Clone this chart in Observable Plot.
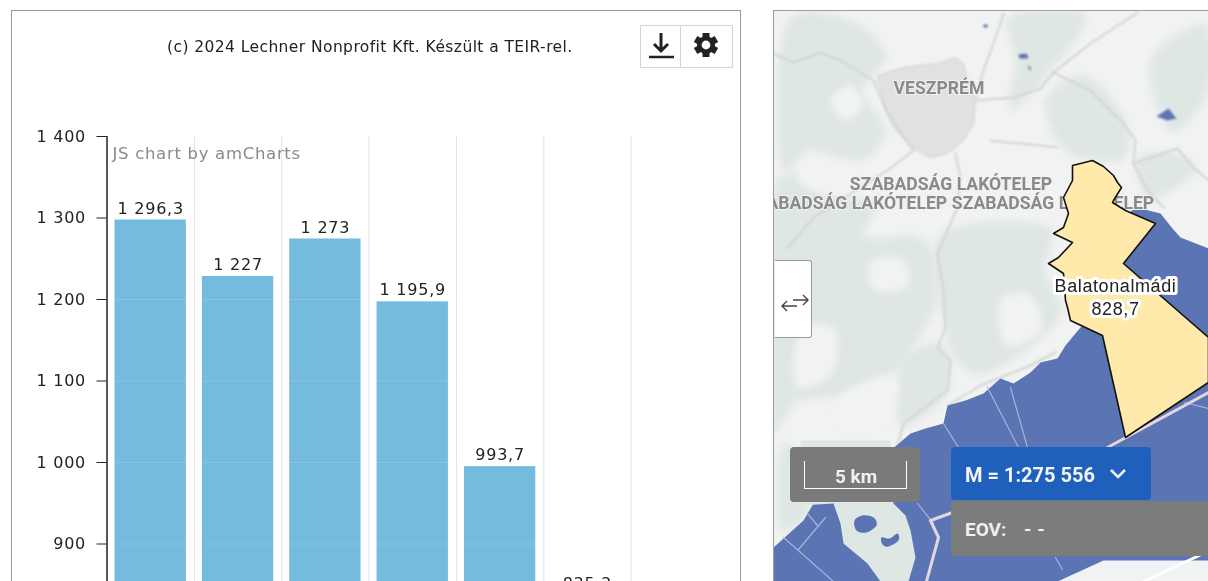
<!DOCTYPE html>
<html><head><meta charset="utf-8">
<script src="https://cdn.jsdelivr.net/npm/d3@7"></script>
<script src="https://cdn.jsdelivr.net/npm/@observablehq/plot@0.6"></script>
<style>
html,body{margin:0;padding:0;background:#fff;width:1208px;height:581px;overflow:hidden;font-family:"DejaVu Sans",sans-serif}
#page{position:relative;width:1208px;height:581px;overflow:hidden;filter:blur(.4px)}
.abs{position:absolute;box-sizing:border-box}
#chart,#map{position:absolute;overflow:hidden}
#chart{left:0;top:0;width:741px;height:581px}
#map{left:773px;top:10px;width:435px;height:571px;background:#f1f2f2}
#chart svg,#map svg{background:transparent;overflow:hidden;display:block;max-width:none}
.soft path{filter:blur(3.2px)}
.soft1 path{filter:blur(.8px)}
.ls text{letter-spacing:.75px}
.wm text{letter-spacing:.7px}
.ml text{letter-spacing:.6px}
</style></head><body>
<div id="page">
<div id="chart"></div>
<div class="abs" style="left:11px;top:10px;width:730px;height:580px;border:1px solid #9c9c9c"></div>
<div class="abs" style="left:167px;top:38px;font:15.5px 'DejaVu Sans';letter-spacing:.42px;color:#222;white-space:nowrap">(c) 2024 Lechner Nonprofit Kft. Készült a TEIR-rel.</div>
<div class="abs" style="left:640px;top:25px;width:93px;height:43px;border:1px solid #d4d4d4;background:#fff"></div>
<div class="abs" style="left:680px;top:25px;width:1px;height:43px;background:#d4d4d4"></div>
<svg class="abs" style="left:646px;top:30px" width="30" height="32" viewBox="0 0 30 32"><path d="M15 3v17M8 14l7 7 7-7" fill="none" stroke="#222" stroke-width="3"/><path d="M3 27h25" stroke="#222" stroke-width="2.5"/></svg>
<svg class="abs" style="left:692px;top:31px" width="28" height="28" viewBox="0 0 28 28"><g fill="#222"><circle cx="14" cy="14" r="9"/><rect x="10.5" y="2" width="7" height="24"/><rect x="10.5" y="2" width="7" height="24" transform="rotate(60 14 14)"/><rect x="10.5" y="2" width="7" height="24" transform="rotate(120 14 14)"/></g><circle cx="14" cy="14" r="4.4" fill="#fff"/></svg>

<div id="map"></div>
<div class="abs" style="left:773px;top:10px;width:436px;height:572px;border:1px solid #9c9c9c;pointer-events:none"></div>
<div class="abs" style="left:775px;top:260px;width:37px;height:78px;background:#fff;border:1px solid #999;border-left:none;border-radius:0 3px 3px 0"></div>
<svg class="abs" style="left:781px;top:293px" width="28" height="20" viewBox="0 0 28 20"><path d="M1 13h15M6 8l-5 5 5 5M12 7h15M22 2l5 5-5 5" fill="none" stroke="#444" stroke-width="1.4"/></svg>
<div class="abs" style="left:790px;top:447px;width:130px;height:55px;background:#7a7a7a;border-radius:4px"></div>
<div class="abs" style="left:804px;top:461px;width:103px;height:28px;border:1px solid #fff;border-top:none"></div>
<div class="abs" style="left:801px;top:465px;width:110px;text-align:center;color:#f0f0f0;font:bold 19px Roboto;white-space:nowrap">5 km</div>
<div class="abs" style="left:951px;top:447px;width:200px;height:53px;background:#2060bd;border-radius:4px;color:#f4f4f4;font:bold 20px Roboto;padding:16px 0 0 14px;white-space:nowrap">M = 1:275 556</div>
<svg class="abs" style="left:1109px;top:468px" width="18" height="12" viewBox="0 0 18 12"><path d="M2 2l7 7 7-7" fill="none" stroke="#f4f4f4" stroke-width="2.6"/></svg>
<div class="abs" style="left:951px;top:501px;width:260px;height:55px;background:#7c7c7c;border-radius:4px;color:#f0f0f0;font:bold 19px Roboto;padding:17px 0 0 14px;white-space:pre">EOV:<span style="position:absolute;left:73px;letter-spacing:.5px">- -</span></div>
</div>
<script>
// --- Chart data ---
const barPositions = [0, 1, 2, 3, 4, 5];
const barValues = [1296.3, 1227, 1273, 1195.9, 993.7, 835.2];
const barLabels = ["1 296,3", "1 227", "1 273", "1 195,9", "993,7", "835,2"];
const yTicks = [900, 1000, 1100, 1200, 1300, 1400];
const gridPositions = [1, 2, 3, 4, 5, 6];
const axisFloor = 700;
const bars = barPositions.map((p, i) => ({p, v: barValues[i], label: barLabels[i]}));
const fmt = d => String(d).replace(/\B(?=(\d{3})+$)/g, " ");

const chart = Plot.plot({
  width: 741, height: 581,
  marginLeft: 106.5, marginRight: 23, marginTop: 136, marginBottom: 0,
  x: {domain: [0, 7], axis: null},
  y: {domain: [854, 1400], axis: null},
  style: {background: "transparent", fontFamily: "DejaVu Sans"},
  marks: [
    Plot.ruleX(gridPositions, {stroke: "#e2e2e2"}),
    Plot.rectY(bars, {x1: "p", x2: d => d.p + 1, y1: axisFloor, y2: "v", insetLeft: 8, insetRight: 8, insetTop: -1, fill: "#75bbde"}),
    Plot.ruleY(yTicks, {stroke: "#fff", strokeOpacity: .14, x1: 0, x2: 5}),
    Plot.text(bars, {x: d => d.p + .5, y: "v", text: "label", dy: -12.5, fontSize: 16, fill: "#222", className: "ls"}),
    Plot.axisY(yTicks, {tickFormat: fmt, tickSize: 10, tickPadding: 11, fontSize: 16, color: "#222", label: null, className: "ls"}),
    Plot.ruleX([0], {stroke: "#111", strokeWidth: 1.4}),
    Plot.text(["JS chart by amCharts"], {frameAnchor: "top-left", dx: 5.5, dy: 11, fontSize: 16.5, fill: "#8a8a8a", className: "wm"})
  ]
});
document.getElementById("chart").append(chart);

// --- Map data (page coordinates) ---
const forests = [
 [[785,25],[850,20],[885,55],[862,90],[885,130],[860,160],[810,150],[780,165]],
 [[770,195],[830,180],[880,195],[865,235],[925,240],[935,300],[910,350],[870,390],[800,400],[770,420]],
 [[940,235],[1045,225],[1045,270],[1060,315],[1010,360],[970,372],[945,330]],
 [[1010,15],[1085,14],[1050,70],[1010,110],[1015,60]],
 [[1045,100],[1085,75],[1125,120],[1120,160],[1065,150]],
 [[1150,60],[1205,25],[1208,90],[1170,130]],
 [[1137,160],[1170,152],[1195,170],[1150,198]],
 [[900,360],[945,345],[945,395],[900,425]],
 [[778,460],[790,445],[810,505],[780,530]]
];
const clearings = [
 [[830,100],[850,85],[862,105],[845,120]],
 [[800,330],[835,330],[830,375],[795,385]],
 [[870,262],[900,258],[908,285],[875,290]],
 [[840,395],[895,375],[885,425],[840,430]],
 [[1000,300],[1030,295],[1040,330],[1005,345]],
 [[800,165],[850,170],[880,198],[810,190]]
];
const city = [[877,75],[903,67],[937,63],[955,57],[963,63],[967,80],[975,100],[973,123],[963,140],[947,153],[930,157],[913,148],[893,127],[883,103]];
const lake = [[1136,207],[1160,213],[1172,228],[1180,237],[1208,248],[1208,560],[1103,560],[1057,581],[773,581],[773,547],[803,520],[813,503],[823,500],[896,445],[910,433],[925,428],[943,423],[947,405],[965,400],[983,393],[1000,378],[1013,383],[1030,372],[1040,362],[1057,358],[1065,345],[1080,327],[1100,300],[1110,225]];
const tihany = [[800,440],[890,440],[893,503],[905,515],[910,530],[915,557],[908,581],[880,581],[867,563],[843,543],[840,523],[833,503],[800,505]];
const pond1 = [[854,520],[862,515],[873,517],[876,525],[866,532],[856,530]];
const pond2 = [[881,537],[889,538],[897,533],[898,540],[888,546],[882,544]];
const smallPonds = [
 [[1018,54],[1026,53],[1028,58],[1019,58]],
 [[1156,116],[1168,108],[1176,118],[1167,120]],
 [[983,24],[987,24],[987,27],[983,27]],
 [[1027,66],[1030,66],[1030,71]]
];
const almadi = [[1072,165],[1092,160],[1103,166],[1113,175],[1117,182],[1121,187],[1113,200],[1112,202],[1125,210],[1155,223],[1123,263],[1208,337],[1208,382],[1125,437],[1102,335],[1070,320],[1067,307],[1065,300],[1063,273],[1048,263],[1058,257],[1072,242],[1053,233],[1063,227],[1068,213],[1063,197],[1072,180]];
const roads = [
 [[773,53],[793,62],[820,52],[840,60],[873,80],[887,113],[913,150],[887,170],[813,217],[787,248]],
 [[977,100],[1013,97],[1040,88],[1053,72],[1090,43],[1137,12]],
 [[1053,72],[1090,90],[1123,123],[1135,140],[1133,163],[1177,148],[1193,167],[1208,180]],
 [[1003,13],[993,43],[983,70],[975,100]],
 [[955,153],[960,177],[957,207],[937,253],[943,290],[945,327],[937,347],[950,360],[947,390],[903,423],[897,445]],
 [[990,140],[1057,147]],
 [[1133,163],[1147,190],[1163,207]],
 [[947,405],[980,385],[1030,365],[1055,352]]
];
const lakeLines = [
 [[943,423],[958,447]],[[987,387],[1018,447]],[[1010,387],[1027,447]],[[1184,402],[1208,408]],
 [[783,537],[833,581]],[[825,517],[798,549]],[[807,513],[817,525]],[[917,503],[933,523]],[[1055,557],[1062,569]]
];
const pinkRoads = [[[1107,447],[1208,392]], [[930,520],[952,512]], [[930,520],[938,537],[926,581]]];
const whiteRoads = [[[1143,581],[1203,553]]];
const toRows = (list) => list.flatMap((pts, id) => pts.map(([x, y]) => ({id, x, y})));
const poly = (list, o) => Plot.line(toRows(list), {x: "x", y: "y", z: "id", curve: "linear-closed", ...o});
const blob = (list, o) => Plot.line(toRows(list), {x: "x", y: "y", z: "id", curve: "cardinal-closed", ...o});
const stroke = (list, o) => Plot.line(toRows(list), {x: "x", y: "y", z: "id", ...o});
const mapLabels = [
 {t: "VESZPRÉM", x: 938.5, y: 88},
 {t: "SZABADSÁG LAKÓTELEP", x: 950.5, y: 184},
 {t: "SZABADSÁG LAKÓTELEP", x: 845.5, y: 203},
 {t: "SZABADSÁG LAKÓTELEP", x: 1052.5, y: 203}
];
const muniName = ["Balatonalmádi", "828,7"];
const muniPos = [{x: 1115, y: 286}, {x: 1115, y: 309}];

const map = Plot.plot({
  width: 435, height: 571, margin: 0,
  x: {domain: [773, 1208], axis: null},
  y: {domain: [581, 10], axis: null},
  style: {background: "transparent"},
  marks: [
    blob(forests, {fill: "#dfe7e4", stroke: "none", className: "soft"}),
    blob(clearings, {fill: "#f1f2f2", stroke: "none", className: "soft"}),
    poly([city], {fill: "#e0e1e1", stroke: "#cfd0d0", strokeWidth: 1, className: "soft1"}),
    stroke(roads, {stroke: "#d2d4d4", strokeWidth: 2, className: "soft1"}),
    poly([lake], {fill: "#5b74b3", stroke: "none"}),
    poly([tihany], {fill: "#dfe7e5", stroke: "none"}),
    blob([pond1, pond2], {fill: "#5b74b3", stroke: "none"}),
    poly(smallPonds, {fill: "#5b74b3", stroke: "none", className: "soft1"}),
    stroke(lakeLines, {stroke: "#a6b5d8", strokeWidth: 1.2}),
    stroke(pinkRoads, {stroke: "#e4d6e0", strokeWidth: 3}),
    stroke(whiteRoads, {stroke: "#fff", strokeWidth: 3}),
    Plot.text(mapLabels, {x: "x", y: "y", text: "t", fontSize: 17.6, fontFamily: "Roboto", fontWeight: "bold", fill: "#8a8a8a", stroke: "#f1f2f2", strokeWidth: 2}),
    poly([almadi], {fill: "#ffeaab", stroke: "#111", strokeWidth: 1.6}),
    Plot.text(muniName, {x: (d, i) => muniPos[i].x, y: (d, i) => muniPos[i].y, text: d => d, fontSize: 18, fontFamily: "Liberation Sans", fill: "#222", stroke: "#fff", strokeWidth: 6, strokeLinejoin: "round", className: "ml"})
  ]
});
document.getElementById("map").append(map);
</script>
</body></html>
